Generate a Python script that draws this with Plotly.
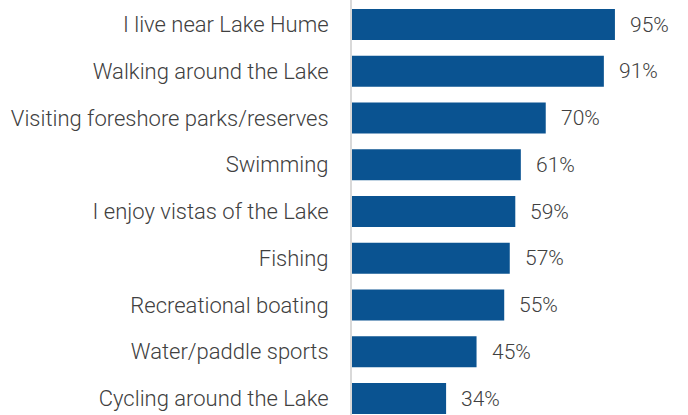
import plotly.graph_objects as go

categories = [
    "I live near Lake Hume",
    "Walking around the Lake",
    "Visiting foreshore parks/reserves",
    "Swimming",
    "I enjoy vistas of the Lake",
    "Fishing",
    "Recreational boating",
    "Water/paddle sports",
    "Cycling around the Lake",
]
values = [95, 91, 70, 61, 59, 57, 55, 45, 34]
labels = [f"{v}%" for v in values]

FONT = dict(family="Roboto", size=22, color="#404040", weight=300)
LFONT = dict(family="Roboto", size=21, color="#404040", weight=300)

fig = go.Figure()
fig.add_trace(go.Bar(
    x=values, y=categories, orientation="h",
    marker=dict(color="#0a5391", line=dict(width=0)),
    hoverinfo="skip",
))
for c, v, t in zip(categories, values, labels):
    fig.add_annotation(x=v, y=c, text=t, showarrow=False, xanchor="left",
                       xshift=13, font=LFONT)

fig.update_layout(
    width=688, height=415,
    margin=dict(l=352, r=0, t=0, b=0),
    paper_bgcolor="white", plot_bgcolor="white",
    bargap=0.337,
    showlegend=False,
    font=FONT,
    xaxis=dict(range=[0, 121.4], visible=False, fixedrange=True),
    yaxis=dict(
        range=[8.353, -0.524],
        showline=True, linecolor="#d9d9d9", linewidth=2,
        showgrid=False, zeroline=False, ticks="",
        ticklabelstandoff=17,
        tickfont=FONT,
    ),
)
fig.write_html("out.html")
